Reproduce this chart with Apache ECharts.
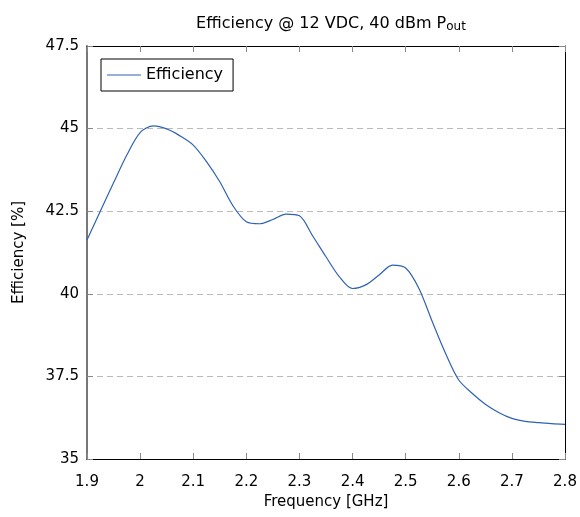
<!DOCTYPE html>
<html>
<head>
<meta charset="utf-8">
<script src="https://cdn.jsdelivr.net/npm/echarts@6/dist/echarts.min.js"></script>
<style>
  html, body { margin: 0; padding: 0; background: #fff; }
  #chart { width: 580px; height: 517px; }
</style>
</head>
<body>
<div id="chart"></div>
<script>
// data
var freq = [1.9, 1.925, 1.95, 1.975, 2.0, 2.025, 2.05, 2.075, 2.1, 2.125, 2.15, 2.175,
            2.2, 2.225, 2.25, 2.275, 2.3, 2.325, 2.35, 2.375, 2.4, 2.425, 2.45, 2.475,
            2.5, 2.525, 2.55, 2.575, 2.6, 2.625, 2.65, 2.675, 2.7, 2.725, 2.75, 2.775, 2.8];
var eff = [41.63, 42.5, 43.36, 44.2, 44.88, 45.08, 44.99, 44.78, 44.5, 44.0, 43.39, 42.66,
           42.18, 42.12, 42.25, 42.41, 42.36, 41.75, 41.12, 40.52, 40.16, 40.27, 40.57, 40.87,
           40.78, 40.16, 39.16, 38.2, 37.39, 36.99, 36.66, 36.41, 36.23, 36.14, 36.1, 36.07, 36.05];
var yTicks = [35, 37.5, 40, 42.5, 45, 47.5];

var font = 'DejaVu Sans';
var chart = echarts.init(document.getElementById('chart'));

var pts = freq.map(function (f, i) { return [f, eff[i]]; });

var option = {
    animation: false,
    textStyle: { fontFamily: font },
    title: {
        text: 'Efficiency @ 12 VDC, 40 dBm P{sub|out}',
        left: 326,
        textAlign: 'center',
        top: 9,
        textStyle: {
            fontSize: 16, fontWeight: 'normal', color: '#000', fontFamily: font,
            rich: { sub: { fontSize: 12, verticalAlign: 'bottom', padding: [7, 0, 0, 0], fontFamily: font, color: '#000' } }
        }
    },
    legend: {
        left: 101, top: 59,
        orient: 'vertical',
        data: ['Efficiency'],
        itemWidth: 34, itemHeight: 1,
        itemGap: 0,
        padding: [8, 10, 8, 6],
        borderColor: '#000', borderWidth: 1, borderRadius: 0,
        icon: 'rect',
        textStyle: { fontSize: 16, color: '#000', fontFamily: font }
    },
    grid: { left: 87, right: 15, top: 46, bottom: 58 },
    xAxis: [{
        type: 'value', min: 1.9, max: 2.8, interval: 0.1,
        name: 'Frequency [GHz]', nameLocation: 'middle', nameGap: 35,
        nameTextStyle: { fontSize: 15, color: '#000', fontFamily: font },
        axisLine: { lineStyle: { color: '#000', width: 1 } },
        axisTick: { inside: true, length: 6, lineStyle: { color: '#888' } },
        axisLabel: { fontSize: 15, color: '#000', margin: 16, fontFamily: font },
        splitLine: { show: false }
    }, {
        type: 'value', min: 1.9, max: 2.8, interval: 0.1, position: 'top',
        axisLine: { lineStyle: { color: '#000', width: 1 } },
        axisTick: { inside: true, length: 6, lineStyle: { color: '#888' } },
        axisLabel: { show: false }, splitLine: { show: false }
    }],
    yAxis: [{
        type: 'value', min: 35, max: 47.5, interval: 2.5,
        name: 'Efficiency [%]', nameLocation: 'middle', nameGap: 60,
        nameTextStyle: { fontSize: 15, color: '#000', fontFamily: font },
        axisLine: { show: true, lineStyle: { color: '#777', width: 2 } },
        axisTick: { show: true, inside: true, length: 6, lineStyle: { color: '#888' } },
        axisLabel: {
            fontSize: 15, color: '#000', margin: 8, fontFamily: font,
            formatter: function (v) { return String(yTicks.reduce(function (a, b) { return Math.abs(b - v) < Math.abs(a - v) ? b : a; })); }
        },
        splitLine: { show: true, lineStyle: { color: '#bbb', type: [6, 4], width: 1 } }
    }, {
        type: 'value', min: 35, max: 47.5, interval: 2.5, position: 'right',
        axisLine: { show: true, lineStyle: { color: '#000', width: 1 } },
        axisTick: { show: true, inside: true, length: 6, lineStyle: { color: '#888' } },
        axisLabel: { show: false }, splitLine: { show: false }
    }],
    series: [{
        name: 'Efficiency',
        type: 'line',
        data: pts,
        smooth: 0.3,
        showSymbol: false,
        symbol: 'none',
        lineStyle: { color: '#2f62b4', width: 1.2 },
        itemStyle: { color: '#2f62b4' }
    }]
};

chart.setOption(option);
window.onresize = function () { chart.resize(); };
</script>
</body>
</html>
